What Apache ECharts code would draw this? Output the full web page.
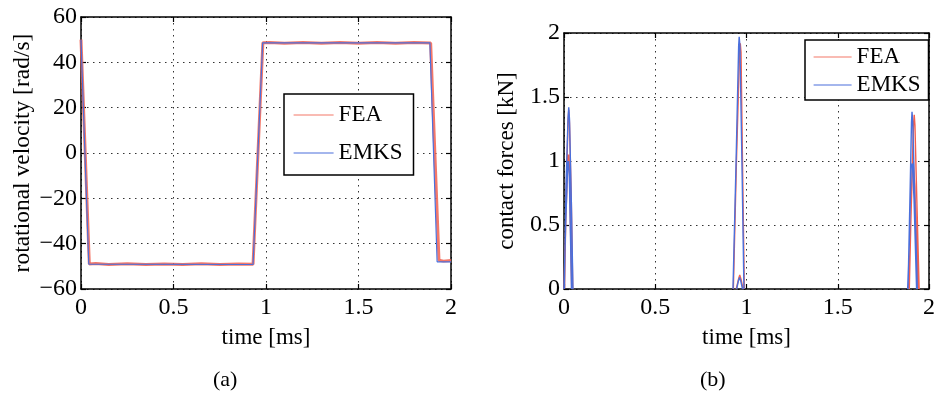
<!DOCTYPE html>
<html>
<head>
<meta charset="utf-8">
<script src="https://cdn.jsdelivr.net/npm/echarts@6/dist/echarts.min.js"></script>
<style>
  html, body { margin: 0; padding: 0; background: #fff; }
  #box { width: 938px; height: 394px; }
</style>
</head>
<body>
<div id="box"></div>
<script>
// axis ticks
const timeTicks = [0, 0.5, 1, 1.5, 2];
const velTicks = [-60, -40, -20, 0, 20, 40, 60];
const forceTicks = [0, 0.5, 1, 1.5, 2];

// (a) rotational velocity [rad/s] vs time [ms]
const velFea = [
  [0, 50], [0.045, -49], [0.08, -48.8], [0.15, -49.2], [0.25, -48.9], [0.35, -49.2],
  [0.45, -49], [0.55, -49.2], [0.65, -48.9], [0.75, -49.2], [0.85, -49], [0.93, -49.1],
  [0.983, 48.6], [1.02, 48.8], [1.1, 48.4], [1.2, 48.7], [1.3, 48.4], [1.4, 48.7],
  [1.5, 48.4], [1.6, 48.7], [1.7, 48.4], [1.8, 48.7], [1.89, 48.5],
  [1.935, -47.3], [1.96, -47.7], [2, -47.4]
];
const velEmks = [
  [0, 50], [0.042, -49], [0.93, -49.2], [0.982, 48.6], [1.886, 48.6], [1.925, -48], [2, -48]
];

// (b) contact forces [kN] vs time [ms], pulses separated by null
const forceFea = [
  [0.003, 0], [0.012, 0.75], [0.022, 1.3], [0.026, 1.4], [0.03, 1.3], [0.04, 0.7], [0.048, 0], [null, null],
  [0, 0], [0.01, 0.55], [0.021, 1.0], [0.025, 1.05], [0.03, 0.9], [0.042, 0], [null, null],
  [0.928, 0], [0.945, 1.0], [0.962, 1.85], [0.966, 1.92], [0.97, 1.85], [0.978, 1.0], [0.988, 0], [null, null],
  [0.944, 0], [0.955, 0.07], [0.963, 0.11], [0.971, 0.07], [0.981, 0], [null, null],
  [1.892, 0], [1.905, 0.8], [1.915, 1.28], [1.919, 1.36], [1.923, 1.28], [1.935, 0.6], [1.946, 0], [null, null],
  [1.888, 0], [1.898, 0.4], [1.908, 0.9], [1.914, 1.0], [1.922, 0.8], [1.94, 0]
];
const forceEmks = [
  [0.002, 0], [0.011, 0.8], [0.022, 1.33], [0.026, 1.42], [0.03, 1.33], [0.04, 0.7], [0.049, 0], [null, null],
  [0, 0], [0.009, 0.5], [0.02, 0.95], [0.024, 1.0], [0.029, 0.9], [0.041, 0], [null, null],
  [0.926, 0], [0.943, 1.0], [0.957, 1.9], [0.96, 1.97], [0.964, 1.9], [0.975, 1.0], [0.986, 0], [null, null],
  [0.946, 0], [0.955, 0.06], [0.962, 0.09], [0.969, 0.06], [0.978, 0], [null, null],
  [1.885, 0], [1.897, 0.8], [1.904, 1.3], [1.907, 1.385], [1.911, 1.3], [1.924, 0.6], [1.936, 0], [null, null],
  [1.883, 0], [1.892, 0.35], [1.902, 0.95], [1.909, 0.98], [1.918, 0.7], [1.932, 0]
];

const FONT = 'Liberation Serif';
const RED = '#f2604f';
const BLUE = '#4a6fdc';

function minus(v) {
  return v < 0 ? '\u2212' + Math.abs(v) : String(v);
}

function frameAxis(grid, ticks, pos, extra) {
  return Object.assign({
    gridIndex: grid,
    type: 'value',
    position: pos,
    min: ticks[0],
    max: ticks[ticks.length - 1],
    interval: ticks[1] - ticks[0],
    axisLine: { show: true, onZero: false, lineStyle: { color: '#000', width: 1.5 } },
    axisTick: { show: true, inside: true, length: 5, lineStyle: { color: '#000', width: 1.2 } },
    axisLabel: { show: false },
    splitLine: { show: false }
  }, extra || {});
}

function mainLabels(margin) {
  return {
    show: true, color: '#000', fontFamily: FONT, fontSize: 24, margin: margin,
    formatter: minus, hideOverlap: false
  };
}

const grid = '#333';
const dotted = { show: true, lineStyle: { color: grid, width: 1, type: [1.5, 4.5] } };
const nameStyle = { color: '#000', fontFamily: FONT, fontSize: 23 };

function legendBox(left, top, padding, itemWidth, itemGap) {
  return {
    data: ['FEA', 'EMKS'], orient: 'vertical', left: left, top: top,
    padding: padding, itemWidth: itemWidth, itemHeight: 14, itemGap: itemGap,
    borderColor: '#000', borderWidth: 1.5, backgroundColor: '#fff',
    lineStyle: { width: 1.2 },
    itemStyle: { color: 'rgba(0,0,0,0)', borderWidth: 0, opacity: 0 },
    textStyle: { color: '#000', fontFamily: FONT, fontSize: 23, lineHeight: 24 }
  };
}

const myChart = echarts.init(document.getElementById('box'));
const options = {
  animation: false,
  backgroundColor: '#fff',
  grid: [
    { left: 81, top: 17, width: 370, height: 272 },
    { left: 564, top: 33, width: 371, height: 256 }
  ],
  xAxis: [
    frameAxis(0, timeTicks, 'bottom', {
      axisLabel: mainLabels(7), splitLine: dotted,
      name: 'time [ms]', nameLocation: 'middle', nameGap: 37, nameTextStyle: nameStyle
    }),
    frameAxis(0, timeTicks, 'top'),
    frameAxis(1, timeTicks, 'bottom', {
      axisLabel: mainLabels(7), splitLine: dotted,
      name: 'time [ms]', nameLocation: 'middle', nameGap: 37, nameTextStyle: nameStyle
    }),
    frameAxis(1, timeTicks, 'top')
  ],
  yAxis: [
    frameAxis(0, velTicks, 'left', {
      axisLabel: mainLabels(4), splitLine: dotted,
      name: 'rotational velocity [rad/s]', nameLocation: 'middle', nameGap: 46,
      nameTextStyle: { color: '#000', fontFamily: FONT, fontSize: 23.5 }
    }),
    frameAxis(0, velTicks, 'right'),
    frameAxis(1, forceTicks, 'left', {
      axisLabel: mainLabels(4), splitLine: dotted,
      name: 'contact forces [kN]', nameLocation: 'middle', nameGap: 46, nameTextStyle: nameStyle
    }),
    frameAxis(1, forceTicks, 'right')
  ],
  legend: [
    legendBox(284, 94, [9, 11, 10, 9], 40, 14),
    legendBox(805, 40, [5, 8, 3, 8], 38, 4)
  ],
  graphic: [
    { type: 'text', left: 213, top: 369, style: { text: '(a)', fill: '#000', font: '22px "Liberation Serif"' } },
    { type: 'text', left: 700, top: 369, style: { text: '(b)', fill: '#000', font: '22px "Liberation Serif"' } }
  ],
  series: [
    {
      name: 'FEA', type: 'line', xAxisIndex: 0, yAxisIndex: 0, data: velFea,
      symbol: 'none', color: RED, lineStyle: { color: RED, width: 3, opacity: 0.85 }
    },
    {
      name: 'EMKS', type: 'line', xAxisIndex: 0, yAxisIndex: 0, data: velEmks,
      symbol: 'none', color: BLUE, lineStyle: { color: BLUE, width: 1.2 }
    },
    {
      name: 'FEA', type: 'line', xAxisIndex: 2, yAxisIndex: 2, data: forceFea,
      symbol: 'none', connectNulls: false, color: RED, lineStyle: { color: RED, width: 1.4 }
    },
    {
      name: 'EMKS', type: 'line', xAxisIndex: 2, yAxisIndex: 2, data: forceEmks,
      symbol: 'none', connectNulls: false, color: BLUE, lineStyle: { color: BLUE, width: 1.4 }
    }
  ]
};
myChart.setOption(options);
</script>
</body>
</html>
